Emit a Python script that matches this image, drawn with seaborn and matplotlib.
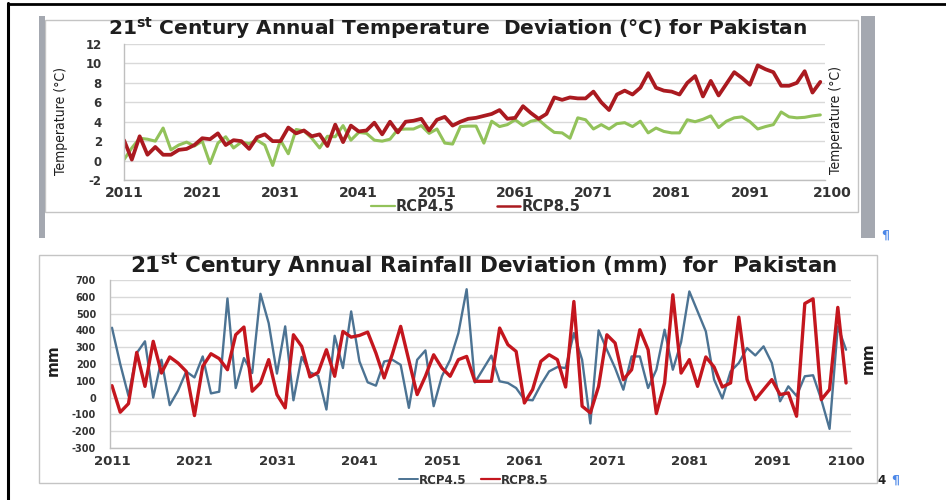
import matplotlib

matplotlib.use("Agg")
import matplotlib.pyplot as plt
import pandas as pd
import seaborn as sns
from matplotlib import font_manager
from matplotlib.font_manager import FontProperties
from matplotlib.lines import Line2D
from matplotlib.patches import Rectangle
from matplotlib.transforms import ScaledTranslation

# ---------------------------------------------------------------------------
# data (deviation per year, 2011-2100)
# ---------------------------------------------------------------------------
years = list(range(2011, 2101))

temp_rcp45 = [
    0.1, 1.3, 2.3, 2.2, 2.0, 3.35, 1.1, 1.6, 1.9, 1.5,
    2.0, -0.3, 1.8, 2.45, 1.3, 1.9, 1.75, 2.1, 1.6, -0.5,
    2.1, 0.7, 3.2, 3.05, 2.3, 1.3, 2.5, 2.45, 3.6, 2.1,
    2.9, 2.8, 2.1, 2.0, 2.2, 3.2, 3.25, 3.25, 3.6, 2.8,
    3.25, 1.8, 1.7, 3.5, 3.55, 3.55, 1.8, 4.05, 3.5, 3.7,
    4.2, 3.6, 4.05, 4.2, 3.5, 2.9, 2.85, 2.3, 4.4, 4.2,
    3.25, 3.7, 3.25, 3.8, 3.9, 3.5, 4.05, 2.85, 3.35, 3.0,
    2.85, 2.85, 4.2, 4.0, 4.25, 4.6, 3.4, 4.05, 4.4, 4.5,
    4.0, 3.25, 3.5, 3.7, 5.0, 4.5, 4.4, 4.45, 4.6, 4.7,
]
temp_rcp85 = [
    2.1, 0.1, 2.5, 0.6, 1.4, 0.6, 0.6, 1.1, 1.2, 1.6,
    2.3, 2.2, 2.8, 1.6, 2.1, 2.0, 1.2, 2.4, 2.7, 2.0,
    2.0, 3.4, 2.8, 3.1, 2.5, 2.7, 1.5, 3.7, 1.9, 3.6,
    3.0, 3.1, 3.9, 2.7, 4.0, 2.9, 4.0, 4.1, 4.3, 3.1,
    4.2, 4.5, 3.6, 4.0, 4.3, 4.4, 4.6, 4.8, 5.2, 4.3,
    4.4, 5.6, 4.9, 4.3, 4.8, 6.5, 6.25, 6.5, 6.4, 6.4,
    7.1, 6.0, 5.2, 6.8, 7.2, 6.8, 7.5, 9.0, 7.5, 7.2,
    7.1, 6.8, 8.0, 8.7, 6.6, 8.2, 6.7, 7.9, 9.1, 8.5,
    7.8, 9.8, 9.4, 9.1, 7.7, 7.7, 8.0, 9.2, 7.0, 8.1,
]
rain_rcp45 = [
    416, 200, 10, 265, 335, 0, 225, -45, 40, 155,
    120, 245, 25, 35, 590, 57, 235, 146, 618, 443,
    143, 424, -16, 242, 150, 130, -71, 368, 176, 513,
    216, 91, 71, 215, 225, 195, -61, 225, 281, -51,
    127, 225, 384, 645, 90, 170, 250, 97, 87, 57,
    -12, -16, 77, 156, 182, 176, 384, 225, -154, 400,
    285, 176, 47, 245, 245, 57, 166, 404, 166, 330,
    632, 513, 394, 107, -5, 156, 206, 295, 251, 305,
    206, -22, 67, 10, 127, 133, -12, -186, 424, 285,
]
rain_rcp85 = [
    71, -87, -36, 269, 67, 335, 146, 242, 206, 156,
    -107, 186, 261, 232, 166, 374, 420, 38, 87, 226,
    18, -61, 374, 305, 123, 150, 285, 127, 394, 360,
    370, 390, 265, 117, 260, 424, 220, 18, 127, 255,
    176, 127, 226, 245, 97, 97, 97, 414, 315, 275,
    -32, 48, 216, 255, 226, 63, 572, -51, -91, 67,
    374, 325, 107, 166, 404, 285, -95, 87, 612, 146,
    226, 67, 242, 182, 63, 87, 479, 107, -12, 48,
    107, 18, 28, -111, 560, 588, -12, 48, 537, 87,
]

temp_ticks = [-2, 0, 2, 4, 6, 8, 10, 12]
rain_ticks = [-300, -200, -100, 0, 100, 200, 300, 400, 500, 600, 700]
year_ticks = [2011, 2021, 2031, 2041, 2051, 2061, 2071, 2081, 2091, 2100]
series_names = ["RCP4.5", "RCP8.5"]

temp_df = pd.DataFrame({"year": years, "RCP4.5": temp_rcp45, "RCP8.5": temp_rcp85})
rain_df = pd.DataFrame({"year": years, "RCP4.5": rain_rcp45, "RCP8.5": rain_rcp85})

# ---------------------------------------------------------------------------
# styling
# ---------------------------------------------------------------------------
sns.set_style("white")
plt.rcParams["font.family"] = ["DejaVu Sans"]
plt.rcParams["mathtext.fontset"] = "dejavusans"


def narrow_font():
    """The axis titles use a narrow face; take any condensed sans if installed."""
    for f in font_manager.fontManager.ttflist:
        name = f.name
        narrowish = f.stretch in ("condensed", "semi-condensed") or "Narrow" in name or "Condensed" in name
        if (narrowish and "Mono" not in name and "Serif" not in name
                and f.style == "normal" and f.weight in (400, "normal", "regular", "book")):
            return FontProperties(fname=f.fname, size=10)
    return FontProperties(family="Liberation Sans", size=8.3)


axis_font = narrow_font()

W, H = 946, 500
GREEN, DARKRED = "#92C25A", "#AA1A20"
BLUE, RED = "#4C7393", "#C4161E"
GRID, BOXC, TICKC = "#D9D9D9", "#C4C4C4", "#333333"


def fx(px):
    return px / W


def fy(py):
    return 1 - py / H


fig = plt.figure(figsize=(W / 100, H / 100), dpi=100)
fig.patch.set_facecolor("white")

# page frame (top and left black rule of the screenshot)
fig.add_artist(Line2D([fx(8), fx(8)], [fy(3), 0], color="black", lw=2.2))
fig.add_artist(Line2D([fx(8), 1], [fy(3.5), fy(3.5)], color="black", lw=2.0))

# chart boxes and the grey selection bars beside the top chart
fig.add_artist(Rectangle((fx(45), fy(212)), (858 - 45) / W, (212 - 20) / H,
                         transform=fig.transFigure, fill=False, ec=BOXC, lw=1))
fig.add_artist(Rectangle((fx(39), fy(483)), (877 - 39) / W, (483 - 255) / H,
                         transform=fig.transFigure, fill=False, ec=BOXC, lw=1))
for x0, x1 in [(39, 45), (861, 875)]:
    fig.add_artist(Rectangle((fx(x0), fy(238)), (x1 - x0) / W, (238 - 16) / H,
                             transform=fig.transFigure, fc="#A4A8B0", ec="none"))


def style_axis(ax, yticks, ylim, xlim, ysize, xsize, ypad, xpad):
    ax.patch.set_alpha(0)
    ax.set_xlim(*xlim)
    ax.set_ylim(*ylim)
    ax.set_yticks(yticks)
    ax.set_yticklabels([str(t) for t in yticks], fontweight="bold", fontsize=ysize, color=TICKC)
    ax.set_xticks(year_ticks)
    ax.set_xticklabels([str(t) for t in year_ticks], fontweight="bold", fontsize=xsize, color=TICKC)
    ax.tick_params(axis="y", length=0, pad=ypad)
    ax.tick_params(axis="x", length=0, pad=xpad)
    ax.yaxis.grid(True, color=GRID, lw=1)
    ax.xaxis.grid(False)
    ax.set_axisbelow(True)
    for side in ["top", "right"]:
        ax.spines[side].set_visible(False)
    for side in ["left", "bottom"]:
        ax.spines[side].set_color("#BFBFBF")
        ax.spines[side].set_linewidth(1)
    ax.set_xlabel("")
    ax.set_ylabel("")


# ---------------------------------------------------------------------------
# top: temperature
# ---------------------------------------------------------------------------
ax_t = fig.add_axes([fx(124), fy(180), (825 - 124) / W, (180 - 44) / H])
sns.lineplot(data=temp_df, x="year", y="RCP4.5", ax=ax_t, color=GREEN, lw=2.2, legend=False)
sns.lineplot(data=temp_df, x="year", y="RCP8.5", ax=ax_t, color=DARKRED, lw=2.7, legend=False)
style_axis(ax_t, temp_ticks, (-2, 12), (2011, 2100.6), 8.5, 10, 16, 4)
last = ax_t.get_xticklabels()[-1]
last.set_transform(last.get_transform() + ScaledTranslation(0.12, 0, fig.dpi_scale_trans))

fig.text(fx(458), fy(35), r"21$^{\mathbf{st}}$ Century Annual Temperature  Deviation (°C) for Pakistan",
         ha="center", va="baseline", fontsize=14.5, fontweight="bold", color="#1E1E1E")
fig.text(fx(61), fy(121), "Temperature (°C)", rotation=90, ha="center", va="center",
         color="#1E1E1E", fontproperties=axis_font)
fig.text(fx(836), fy(120), "Temperature (°C)", rotation=90, ha="center", va="center",
         color="#1E1E1E", fontproperties=axis_font)
fig.legend([Line2D([], [], color=GREEN, lw=1.6), Line2D([], [], color=DARKRED, lw=1.8)],
           series_names, loc="center", bbox_to_anchor=(fx(476), fy(207)), ncol=2,
           frameon=False, prop={"weight": "bold", "size": 10.5}, labelcolor="#333333",
           handlelength=1.6, handletextpad=0.1, columnspacing=2.9, borderpad=0)
fig.text(fx(885), fy(235), "¶", ha="center", va="center", fontsize=9,
         fontweight="bold", color="#4A86E8")

# ---------------------------------------------------------------------------
# bottom: rainfall
# ---------------------------------------------------------------------------
ax_r = fig.add_axes([fx(110), fy(448), (851 - 110) / W, (448 - 280) / H])
sns.lineplot(data=rain_df, x="year", y="RCP4.5", ax=ax_r, color=BLUE, lw=1.7, legend=False)
sns.lineplot(data=rain_df, x="year", y="RCP8.5", ax=ax_r, color=RED, lw=2.4, legend=False)
style_axis(ax_r, rain_ticks, (-300, 700), (2010.76, 2100.6), 7, 9.5, 10, 5)

fig.text(fx(484), fy(273), r"21$^{\mathbf{st}}$ Century Annual Rainfall Deviation (mm)  for  Pakistan",
         ha="center", va="baseline", fontsize=15.5, fontweight="bold", color="#1E1E1E")
fig.text(fx(53), fy(360), "mm", rotation=90, ha="center", va="center",
         fontsize=11, fontweight="bold", color="#1E1E1E")
fig.text(fx(868), fy(358), "mm", rotation=90, ha="center", va="center",
         fontsize=11, fontweight="bold", color="#1E1E1E")
fig.legend([Line2D([], [], color=BLUE, lw=1.4), Line2D([], [], color=RED, lw=1.6)],
           series_names, loc="center", bbox_to_anchor=(fx(474), fy(480)), ncol=2,
           frameon=False, prop={"weight": "bold", "size": 8.5}, labelcolor="#333333",
           handlelength=1.6, handletextpad=0.1, columnspacing=1.2, borderpad=0)
fig.text(fx(882), fy(480), "4", ha="center", va="center", fontsize=8.5,
         fontweight="bold", color="#222222")
fig.text(fx(895), fy(480), "¶", ha="center", va="center", fontsize=9,
         fontweight="bold", color="#4A86E8")

fig.savefig("out.png", dpi=100, facecolor="white")
